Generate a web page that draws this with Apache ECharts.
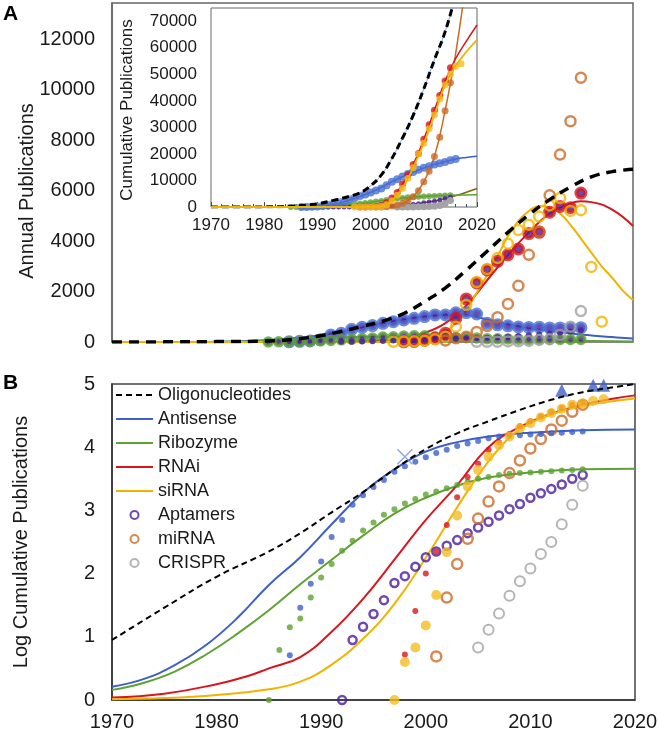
<!DOCTYPE html>
<html><head><meta charset="utf-8">
<script src="https://cdn.jsdelivr.net/npm/echarts@6/dist/echarts.min.js"></script>
<style>html,body{margin:0;padding:0;background:#fff}#c{width:660px;height:733px}</style>
</head><body><div id="c"></div>
<script>
// ===== Panel A: annual publications =====
const aOligoFitYears = [1970,1975,1980,1985,1988,1990,1992,1994,1996,1998,2000,2002,2004,2006,2008,2010,2012,2014,2016,2018,2020];
const aOligoFit = [0,5,15,40,130,250,420,620,830,1130,1600,2150,2850,3600,4350,5050,5650,6150,6550,6760,6850];
const aAntisenseFitYears = [1970,1975,1980,1985,1988,1990,1992,1994,1996,1998,2000,2002,2003,2004,2005,2006,2007,2008,2010,2012,2014,2016,2018,2020];
const aAntisenseFit = [0,2,10,80,170,270,410,580,750,900,1010,1080,1090,1070,990,890,790,700,550,440,340,260,195,140];
const aRibozymeFitYears = [1970,1980,1985,1990,1995,2000,2005,2010,2015,2020];
const aRibozymeFit = [0,5,50,150,210,200,150,90,45,15];
const aRnaiFitYears = [1970,1990,1994,1996,1998,2000,2002,2004,2006,2008,2010,2012,2014,2015,2016,2018,2020];
const aRnaiFit = [0,0,20,60,170,360,750,1450,2450,3450,4350,5100,5500,5580,5550,5250,4600];
const aSirnaFitYears = [1970,1995,1998,2000,2002,2003,2004,2005,2006,2007,2008,2009,2010,2011,2012,2013,2014,2015,2016,2017,2018,2019,2020];
const aSirnaFit = [0,0,40,150,420,750,1250,1950,2650,3400,4200,4800,5200,5400,5350,5100,4650,4100,3550,3000,2550,2050,1670];

const aAntisenseYears = [1987,1988,1989,1990,1991,1992,1993,1994,1995,1996,1997,1998,1999,2000,2001,2002,2003,2004,2005,2006,2007,2008,2009,2010,2011,2012,2013,2014,2015];
const aAntisense = [5,25,40,90,278,344,504,583,650,742,808,875,941,1010,1074,1074,1160,1167,1110,742,680,640,600,580,590,560,560,555,570];
const aRibozymeYears = [1985,1986,1987,1988,1989,1990,1991,1992,1993,1994,1995,1996,1997,1998,1999,2000,2001,2002,2003,2004,2005,2006,2007,2008,2009,2010,2011,2012,2013,2014,2015];
const aRibozyme = [1,5,8,13,22,45,60,85,110,140,160,200,210,240,250,250,210,200,180,170,160,130,130,120,110,100,100,100,100,100,100];
const aAptamersYears = [1992,1993,1994,1995,1996,1997,1998,1999,2000,2001,2002,2003,2004,2005,2006,2007,2008,2009,2010,2011,2012,2013,2014,2015];
const aAptamers = [5,10,20,30,40,60,70,80,100,110,120,130,150,160,170,190,210,240,270,300,330,370,420,470];
const aRnaiYears = [1998,1999,2000,2001,2002,2003,2004,2005,2006,2007,2008,2009,2010,2011,2012,2013,2014,2015];
const aRnai = [5,20,70,146,344,941,1710,2340,2860,3200,3460,3690,4300,4350,5150,5380,5330,5910];
const aSirnaYears = [1997,1998,1999,2000,2001,2002,2003,2004,2005,2006,2007,2008,2009,2010,2011,2012,2013,2014,2015,2016,2017];
const aSirna = [5,20,25,45,110,212,610,1470,2380,2900,3330,3900,4440,4650,4980,5420,5710,5200,5230,2980,808];
const aMirnaYears = [2002,2003,2004,2005,2006,2007,2008,2009,2010,2011,2012,2013,2014,2015];
const aMirna = [60,150,212,400,636,982,1511,2227,3459,4386,5820,7436,8760,10486];
const aCrisprYears = [2005,2006,2007,2008,2009,2010,2011,2012,2013,2014,2015];
const aCrispr = [7,6,10,22,31,44,84,112,280,610,1225];
const aYTicks = [0,2000,4000,6000,8000,10000,12000];

// ===== Inset: cumulative publications =====
const iOligoFitYears = [1970,1980,1985,1990,1993,1996,1998,2000,2002,2004,2006,2008,2010,2012,2014,2016];
const iOligoFit = [0,50,300,1200,2500,4000,5300,8000,12000,18300,26000,34500,44500,55500,66000,80000];
const iAntisenseYears = [1987,1988,1989,1990,1991,1992,1993,1994,1995,1996,1997,1998,1999,2000,2001,2002,2003,2004,2005,2006,2007,2008,2009,2010,2011,2012,2013,2014,2015,2016];
const iAntisense = [5,30,70,150,350,650,1000,1450,2000,2700,3400,4100,4700,5500,6200,7000,8200,9500,10500,11500,12400,13200,14000,14800,15400,16000,16500,17000,17600,18100];
const iAntisenseFitYears = [1970,1985,1990,1995,2000,2004,2008,2012,2016,2018,2020];
const iAntisenseFit = [0,10,150,2000,5500,9500,13200,16000,18100,18700,19100];
const iRibozymeYears = [1985,1986,1987,1988,1989,1990,1991,1992,1993,1994,1995,1996,1997,1998,1999,2000,2001,2002,2003,2004,2005,2006,2007,2008,2009,2010,2011,2012,2013,2014,2015];
const iRibozyme = [0,5,15,20,40,90,140,230,330,490,650,850,1050,1290,1550,1820,2040,2290,2630,2950,3240,3390,3630,3800,3890,3980,4070,4170,4270,4370,4470];
const iRibozymeFitYears = [1970,1984,1990,1995,2000,2005,2010,2015,2020];
const iRibozymeFit = [0,0,90,650,1800,3200,4000,4450,4650];
const iRnaiYears = [1998,1999,2000,2001,2002,2003,2004,2005,2006,2007,2008,2009,2010,2011,2012,2013,2014,2015];
const iRnai = [5,26,100,220,590,1600,3400,5500,8700,12200,16000,20200,25500,31000,36500,42000,47500,52500];
const iRnaiFitYears = [1970,1995,1998,2000,2002,2004,2006,2008,2010,2012,2014,2016,2018,2020];
const iRnaiFit = [0,0,5,100,600,3400,8700,16000,25500,36500,47500,56000,62500,68600];
const iSirnaYears = [1997,1998,1999,2000,2001,2002,2003,2004,2005,2006,2007,2008,2009,2010,2011,2012,2013,2014,2015,2016,2017];
const iSirna = [0,4,7,15,46,220,830,2400,4400,7100,10700,14800,20000,24000,29500,34700,40700,46000,50000,53000,54000];
const iSirnaFitYears = [1970,1996,1998,2000,2002,2004,2006,2008,2010,2012,2014,2016,2018,2020];
const iSirnaFit = [0,0,4,15,220,2400,7100,14800,24000,34700,46000,53200,58500,63000];
const iMirnaYears = [2001,2002,2003,2004,2005,2006,2007,2008,2009,2010,2011,2012,2013,2014,2015];
const iMirna = [5,42,140,355,740,1380,2400,3890,6170,9550,13490,19050,26300,36300,46800];
const iMirnaFitYears = [1970,2000,2004,2006,2008,2010,2012,2014,2016,2018];
const iMirnaFit = [0,0,350,1400,3900,9500,19000,36300,58000,86000];
const iAptamersYears = [1992,1993,1994,1995,1996,1997,1998,1999,2000,2001,2002,2003,2004,2005,2006,2007,2008,2009,2010,2011,2012,2013,2014,2015];
const iAptamers = [0,9,14,23,38,71,91,129,182,224,275,339,437,537,661,832,1047,1259,1585,1862,2188,2570,3162,3631];
const iAptamersFitYears = [1970,1990,1995,2000,2005,2010,2015,2020];
const iAptamersFit = [0,0,30,200,550,1600,3700,7000];
const iCrisprYears = [2005,2006,2007,2008,2009,2010,2011,2012,2013,2014,2015];
const iCrispr = [7,13,23,45,76,120,204,316,603,1230,2455];
const iYTicks = [0,10000,20000,30000,40000,50000,60000,70000];

// ===== Panel B: log cumulative publications =====
const bOligoFitYears = [1970,1975,1980,1985,1988,1991,1994,1997,2000,2003,2006,2009,2012,2015,2018,2020];
const bOligoFit = [0.95,1.46,1.95,2.35,2.64,2.97,3.29,3.65,3.97,4.22,4.41,4.59,4.75,4.87,4.95,5.0];
const bAntisenseFitYears = [1970,1973,1976,1979,1982,1985,1988,1991,1994,1997,2000,2003,2006,2010,2015,2020];
const bAntisenseFit = [0.21,0.33,0.55,0.87,1.30,1.82,2.26,2.78,3.28,3.65,3.93,4.08,4.17,4.23,4.27,4.28];
const bRibozymeFitYears = [1970,1973,1976,1979,1982,1985,1988,1991,1994,1997,2000,2003,2006,2010,2015,2020];
const bRibozymeFit = [0.16,0.27,0.45,0.72,1.05,1.42,1.83,2.22,2.60,2.95,3.20,3.39,3.52,3.60,3.65,3.66];
const bRnaiFitYears = [1970,1975,1980,1983,1985,1988,1991,1994,1997,2000,2003,2006,2009,2012,2015,2018,2020];
const bRnaiFit = [0.04,0.10,0.25,0.38,0.50,0.68,1.08,1.60,2.22,2.85,3.40,4.00,4.32,4.53,4.67,4.77,4.82];
const bSirnaFitYears = [1970,1975,1980,1985,1988,1991,1994,1997,2000,2003,2005,2007,2009,2012,2015,2018,2020];
const bSirnaFit = [0.01,0.03,0.08,0.17,0.29,0.56,0.97,1.52,2.25,3.05,3.55,3.98,4.28,4.52,4.65,4.73,4.77];

const bAntisenseYears = [1987,1988,1989,1990,1991,1992,1993,1994,1995,1996,1997,1998,1999,2000,2001,2002,2003,2004,2005,2006,2007,2008,2009,2010,2011,2012,2013,2014,2015];
const bAntisense = [0.71,1.46,1.84,2.19,2.58,2.85,3.09,3.24,3.37,3.48,3.61,3.70,3.77,3.84,3.91,3.96,4.02,4.06,4.10,4.14,4.17,4.18,4.19,4.20,4.21,4.22,4.23,4.24,4.25];
const bRibozymeYears = [1985,1986,1987,1988,1989,1990,1991,1992,1993,1994,1995,1996,1997,1998,1999,2000,2001,2002,2003,2004,2005,2006,2007,2008,2009,2010,2011,2012,2013,2014,2015];
const bRibozyme = [0.0,0.79,1.15,1.29,1.62,1.94,2.15,2.36,2.52,2.68,2.81,2.93,3.02,3.11,3.18,3.25,3.30,3.35,3.40,3.45,3.50,3.53,3.56,3.58,3.59,3.60,3.61,3.62,3.63,3.64,3.65];
const bRnaiYears = [1998,1999,2000,2001,2002,2003,2004,2005,2006,2007,2008,2009,2010,2011,2012,2013,2014,2015];
const bRnai = [0.72,1.41,2.00,2.35,2.77,3.21,3.53,3.74,3.96,4.08,4.21,4.33,4.41,4.49,4.56,4.62,4.67,4.71];
const bSirnaYears = [1997,1998,1999,2000,2001,2002,2003,2004,2005,2006,2007,2008,2009,2010,2011,2012,2013,2014,2015,2016,2017];
const bSirna = [0,0.60,0.83,1.18,1.66,2.34,2.92,3.38,3.64,3.85,4.03,4.17,4.30,4.38,4.47,4.54,4.61,4.67,4.69,4.73,4.76];
const bAptamersYears = [1992,1993,1994,1995,1996,1997,1998,1999,2000,2001,2002,2003,2004,2005,2006,2007,2008,2009,2010,2011,2012,2013,2014,2015];
const bAptamers = [0,0.95,1.16,1.36,1.58,1.85,1.96,2.11,2.26,2.35,2.44,2.53,2.64,2.73,2.82,2.92,3.02,3.10,3.20,3.27,3.34,3.41,3.50,3.56];
const bMirnaYears = [2001,2002,2003,2004,2005,2006,2007,2008,2009,2010,2011,2012,2013,2014,2015];
const bMirna = [0.69,1.62,2.15,2.55,2.87,3.14,3.38,3.59,3.79,3.98,4.13,4.28,4.42,4.56,4.67];
const bCrisprYears = [2005,2006,2007,2008,2009,2010,2011,2012,2013,2014,2015];
const bCrispr = [0.83,1.11,1.37,1.65,1.88,2.08,2.31,2.50,2.78,3.09,3.39];
const bTriangleYears = [2013,2016,2017];
const bTriangles = [4.90,4.98,4.98];
const bCrossYears = [1998];
const bCross = [3.85];
const lineLegendNames = ['Oligonucleotides','Antisense','Ribozyme','RNAi','siRNA'];
const markerLegendNames = ['Aptamers','miRNA','CRISPR'];

// ===== helpers / styles =====
const FONT = "'Liberation Sans', Arial, Helvetica, sans-serif";
const COL = {blue:'#3d5fc8', blueDot:'#4a6fd3', green:'#5ea232', red:'#d8161d', gold:'#f0b400', goldDot:'#f4bd22',
  orange:'#cc6a24', purple:'#4a1c9e', gray:'#a3a3a3', olive:'#7b6a0c', black:'#000'};
const pairs = (xs, ys) => xs.map((x, i) => [x, ys[i]]);
function fit(name, g, xs, ys, color, width, extra) {
  return Object.assign({type:'line', name, xAxisIndex:g, yAxisIndex:g, data:pairs(xs, ys), smooth:0.45,
    symbol:'none', showSymbol:false, lineStyle:{color, width}, itemStyle:{color}, z:2, silent:true}, extra || {});
}
function dots(name, g, xs, ys, size, itemStyle, extra) {
  return Object.assign({type:'scatter', name, xAxisIndex:g, yAxisIndex:g, data:pairs(xs, ys), symbol:'circle',
    symbolSize:size, itemStyle, z:3, silent:true}, extra || {});
}
const ring = (c, w) => ({color:'rgba(0,0,0,0)', borderColor:c, borderWidth:w});
const cored = (c, w) => ({color:COL.purple, borderColor:c, borderWidth:w});
const hideNon = ticks => v => ticks.includes(v) ? String(v) : '';
const plain = v => String(v);

const series = [
  // ---------- Panel B (first, so legend picks these) ----------
  fit('Oligonucleotides', 2, bOligoFitYears, bOligoFit, COL.black, 2, {lineStyle:{color:COL.black, width:2, type:[6,4]}, z:4}),
  fit('Antisense', 2, bAntisenseFitYears, bAntisenseFit, COL.blue, 2),
  fit('Ribozyme', 2, bRibozymeFitYears, bRibozymeFit, COL.green, 2),
  fit('RNAi', 2, bRnaiFitYears, bRnaiFit, COL.red, 2),
  fit('siRNA', 2, bSirnaFitYears, bSirnaFit, COL.gold, 2),
  dots('Aptamers', 2, bAptamersYears, bAptamers, 8, ring(COL.purple, 2.5)),
  dots('miRNA', 2, bMirnaYears, bMirna, 10, ring(COL.orange, 2.5)),
  dots('CRISPR', 2, bCrisprYears, bCrispr, 10, ring(COL.gray, 2)),
  dots('B antisense pts', 2, bAntisenseYears, bAntisense, 6, {color:COL.blue}),
  dots('B ribozyme pts', 2, bRibozymeYears, bRibozyme, 6, {color:COL.green}),
  dots('B rnai pts', 2, bRnaiYears, bRnai, 6, {color:COL.red}),
  dots('B sirna pts', 2, bSirnaYears, bSirna, 10, {color:COL.goldDot}),
  dots('B triangles', 2, bTriangleYears, bTriangles, 13, {color:COL.blue}, {symbol:'triangle', clip:false}),
  dots('B cross', 2, bCrossYears, bCross, 15, {color:'rgba(0,0,0,0)', borderColor:'#6f8bd8', borderWidth:1.3},
       {symbol:'path://M0 0L10 10M10 0L0 10'}),
  // ---------- Panel A ----------
  fit('A antisense fit', 0, aAntisenseFitYears, aAntisenseFit, COL.blue, 2),
  fit('A ribozyme fit', 0, aRibozymeFitYears, aRibozymeFit, COL.green, 2),
  fit('A rnai fit', 0, aRnaiFitYears, aRnaiFit, COL.red, 2),
  fit('A sirna fit', 0, aSirnaFitYears, aSirnaFit, COL.gold, 2),
  dots('A antisense', 0, aAntisenseYears, aAntisense, 9, cored(COL.blueDot, 4)),
  dots('A ribozyme', 0, aRibozymeYears, aRibozyme, 8, cored(COL.green, 3.5)),
  dots('A aptamers', 0, aAptamersYears, aAptamers, 6, {color:COL.purple}),
  dots('A crispr', 0, aCrisprYears, aCrispr, 10, ring(COL.gray, 2.5)),
  dots('A rnai', 0, aRnaiYears, aRnai, 9, cored(COL.red, 4)),
  dots('A sirna', 0, aSirnaYears, aSirna, 10, ring(COL.gold, 2.5)),
  dots('A mirna', 0, aMirnaYears, aMirna, 10, ring(COL.orange, 2.5)),
  fit('A oligo fit', 0, aOligoFitYears, aOligoFit, COL.black, 3.5, {lineStyle:{color:COL.black, width:3.5, type:[10,7]}, z:5}),
  // ---------- Inset ----------
  fit('I aptamers fit', 1, iAptamersFitYears, iAptamersFit, COL.olive, 1.5),
  fit('I ribozyme fit', 1, iRibozymeFitYears, iRibozymeFit, COL.green, 1.5),
  fit('I antisense fit', 1, iAntisenseFitYears, iAntisenseFit, COL.blue, 1.5),
  fit('I mirna fit', 1, iMirnaFitYears, iMirnaFit, COL.orange, 1.5),
  fit('I rnai fit', 1, iRnaiFitYears, iRnaiFit, COL.red, 1.5),
  dots('I ribozyme', 1, iRibozymeYears, iRibozyme, 6, {color:COL.green}),
  dots('I aptamers', 1, iAptamersYears, iAptamers, 5, {color:COL.purple}),
  fit('I crispr', 1, iCrisprYears, iCrispr, COL.gray, 1.5, {symbol:'circle', showSymbol:true, symbolSize:7, z:3}),
  dots('I antisense', 1, iAntisenseYears, iAntisense, 8, {color:COL.blueDot}),
  dots('I mirna', 1, iMirnaYears, iMirna, 7, {color:COL.orange}),
  dots('I rnai', 1, iRnaiYears, iRnai, 7, {color:COL.red}),
  dots('I sirna', 1, iSirnaYears, iSirna, 7, {color:COL.goldDot}),
  fit('I oligo under', 1, iOligoFitYears, iOligoFit, '#7aa6e6', 1, {z:4}),
  fit('I oligo fit', 1, iOligoFitYears, iOligoFit, COL.black, 3, {lineStyle:{color:COL.black, width:3, type:[7,4]}, z:5}),
  fit('I sirna fit', 1, iSirnaFitYears, iSirnaFit, COL.gold, 1.8, {z:6})
];

const txt = {color:'#1a1a1a', fontFamily:FONT};
const legendData = lineLegendNames.map(n => ({name:n, itemStyle:{opacity:0}}))
  .concat(markerLegendNames.map(n => ({name:n})));
const option = {
  animation:false,
  backgroundColor:'#fff',
  grid:[
    {left:112, top:3, width:521, height:339, show:true, borderColor:'#666', borderWidth:1.5, backgroundColor:'rgba(0,0,0,0)', containLabel:false, outerBoundsMode:'none'},
    {left:211, top:8, width:266, height:199, show:true, borderColor:'#666', borderWidth:1, backgroundColor:'#fff', containLabel:false, outerBoundsMode:'none'},
    {left:112, top:384, width:523, height:316, show:true, borderColor:'#444', borderWidth:1.5, backgroundColor:'rgba(0,0,0,0)', containLabel:false, outerBoundsMode:'none'}
  ],
  xAxis:[
    {gridIndex:0, type:'value', min:1970, max:2020, show:false, splitLine:{show:false}},
    {gridIndex:1, type:'value', min:1970, max:2020, interval:10, axisLine:{show:false},
     axisTick:{show:true, inside:true, length:5, lineStyle:{color:'#3c4a78'}},
     minorTick:{show:true, splitNumber:5, length:3, lineStyle:{color:'#3c4a78'}},
     splitLine:{show:false}, minorSplitLine:{show:false},
     axisLabel:Object.assign({fontSize:17, margin:10, formatter:plain}, txt)},
    {gridIndex:2, type:'value', min:1970, max:2020, interval:10, axisLine:{show:true, lineStyle:{color:'#333', width:1.5}},
     axisTick:{show:false}, splitLine:{show:false}, axisLabel:Object.assign({fontSize:20, margin:12, formatter:plain}, txt)}
  ],
  yAxis:[
    {gridIndex:0, type:'value', min:0, max:13450, interval:2000, axisLine:{show:true, lineStyle:{color:'#666', width:1.5}},
     axisTick:{show:false}, splitLine:{show:false}, axisLabel:Object.assign({fontSize:20, margin:17, formatter:hideNon(aYTicks)}, txt)},
    {gridIndex:1, type:'value', min:0, max:75000, interval:10000, axisLine:{show:false},
     axisTick:{show:false}, splitLine:{show:false}, axisLabel:Object.assign({fontSize:17, margin:14, formatter:hideNon(iYTicks)}, txt)},
    {gridIndex:2, type:'value', min:0, max:5, interval:1, axisLine:{show:true, lineStyle:{color:'#333', width:1.5}},
     axisTick:{show:false}, splitLine:{show:false}, axisLabel:Object.assign({fontSize:20, margin:17, formatter:plain}, txt)}
  ],
  legend:{
    data:legendData, orient:'vertical', left:115, top:386, itemWidth:37, itemHeight:8, itemGap:6, padding:0,
    selectedMode:false, textStyle:Object.assign({fontSize:18}, txt), backgroundColor:'rgba(0,0,0,0)'
  },
  graphic:[
    {type:'text', x:3, y:4, style:{text:'A', fontSize:21, fontWeight:'bold', fontFamily:FONT, fill:'#000'}},
    {type:'text', x:3, y:373, style:{text:'B', fontSize:21, fontWeight:'bold', fontFamily:FONT, fill:'#000'}},
    {type:'text', x:27, y:191, rotation:Math.PI/2, style:{text:'Annual Publications', fontSize:20, fontFamily:FONT, fill:'#1a1a1a', align:'center', verticalAlign:'middle', textAlign:'center', textVerticalAlign:'middle'}},
    {type:'text', x:127, y:110, rotation:Math.PI/2, style:{text:'Cumulative Publications', fontSize:17, fontFamily:FONT, fill:'#1a1a1a', align:'center', verticalAlign:'middle', textAlign:'center', textVerticalAlign:'middle'}},
    {type:'text', x:21, y:542, rotation:Math.PI/2, style:{text:'Log Cumulative Publications', fontSize:20, fontFamily:FONT, fill:'#1a1a1a', align:'center', verticalAlign:'middle', textAlign:'center', textVerticalAlign:'middle'}}
  ],
  series
};
const chart = echarts.init(document.getElementById('c'), null, {renderer:'canvas'});
chart.setOption(option);
</script>
</body></html>
